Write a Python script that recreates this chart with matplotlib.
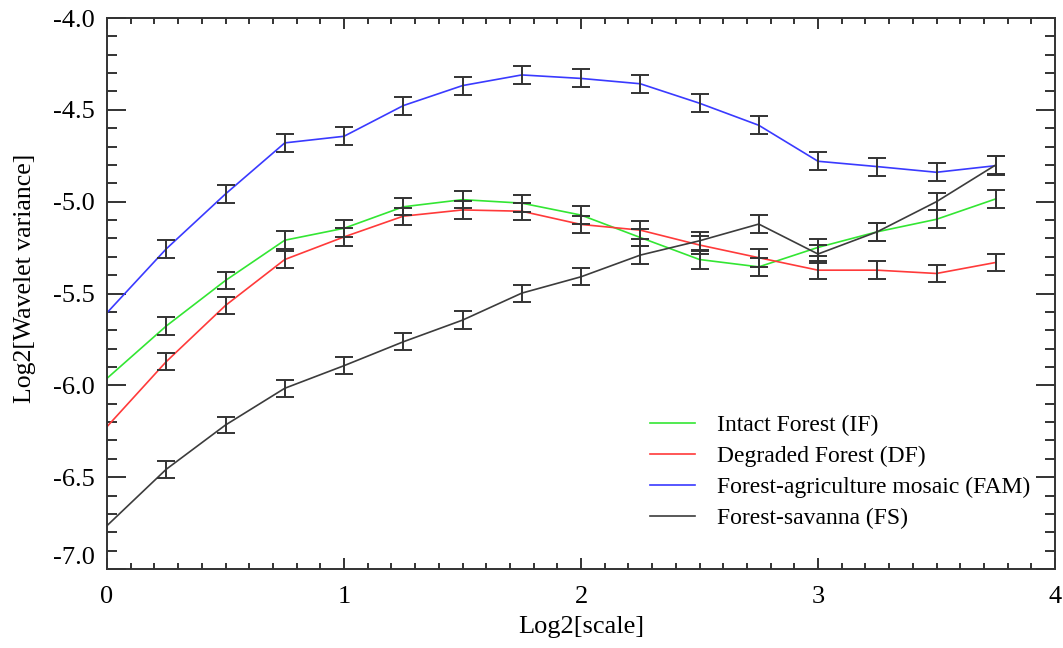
import matplotlib
matplotlib.use("Agg")
import matplotlib.pyplot as plt
from matplotlib.ticker import MultipleLocator, FixedLocator, FuncFormatter
from matplotlib.transforms import ScaledTranslation

plt.rcParams["font.family"] = ["Liberation Serif", "DejaVu Serif"]
plt.rcParams["axes.unicode_minus"] = False

# Log2 of the wavelet scale
log2_scale = [0.0, 0.25, 0.5, 0.75, 1.0, 1.25, 1.5, 1.75,
              2.0, 2.25, 2.5, 2.75, 3.0, 3.25, 3.5, 3.75]

# Log2 wavelet variance per landscape
intact_forest = [-5.962, -5.677, -5.429, -5.210, -5.145, -5.028, -4.989, -5.008,
                 -5.073, -5.195, -5.315, -5.355, -5.249, -5.164, -5.096, -4.985]
degraded_forest = [-6.225, -5.871, -5.565, -5.315, -5.192, -5.079, -5.045, -5.052,
                   -5.124, -5.155, -5.236, -5.305, -5.373, -5.373, -5.391, -5.331]
agri_mosaic = [-5.605, -5.257, -4.958, -4.680, -4.644, -4.477, -4.368, -4.310,
               -4.329, -4.358, -4.464, -4.584, -4.780, -4.809, -4.840, -4.804]
forest_savanna = [-6.764, -6.457, -6.216, -6.016, -5.893, -5.763, -5.645, -5.498,
                  -5.409, -5.291, -5.213, -5.122, -5.285, -5.164, -5.000, -4.800]

# Half-width of the confidence bars (no bar at the first scale)
err_if = [0.048, 0.048, 0.048, 0.047, 0.047, 0.048, 0.047, 0.047,
          0.048, 0.049, 0.048, 0.048, 0.048, 0.048, 0.048]
err_df = [0.048, 0.048, 0.048, 0.047, 0.047, 0.048, 0.047, 0.047,
          0.048, 0.048, 0.048, 0.048, 0.048, 0.048, 0.048]
err_fam = [0.050, 0.050, 0.049, 0.049, 0.049, 0.049, 0.049, 0.049,
           0.049, 0.049, 0.049, 0.049, 0.049, 0.049, 0.050]
err_fs = [0.045, 0.046, 0.046, 0.047, 0.047, 0.047, 0.047, 0.047,
          0.048, 0.048, 0.048, 0.048, 0.048, 0.048, 0.050]

labels = ["Intact Forest (IF)", "Degraded Forest (DF)",
          "Forest-agriculture mosaic (FAM)", "Forest-savanna (FS)"]
series = [intact_forest, degraded_forest, agri_mosaic, forest_savanna]
errors = [err_if, err_df, err_fam, err_fs]
colors = ["#33e633", "#ff3a3a", "#3a3aff", "#3c3c3c"]

fig = plt.figure(figsize=(10.63, 6.48), dpi=100)
ax = fig.add_axes([107 / 1063, 79 / 648, 948 / 1063, 551 / 648])

for y, c, lab in zip(series, colors, labels):
    ax.plot(log2_scale, y, color=c, lw=1.2, label=lab, zorder=2)

for y, e in zip(series, errors):
    ax.errorbar(log2_scale[1:], y[1:], yerr=e, fmt="none", ecolor="#333333",
                elinewidth=1.4, capsize=6.5, capthick=1.4, zorder=3)

ax.set_xlim(0, 4)
ax.set_ylim(-7.0, -4.0)

ax.xaxis.set_major_locator(MultipleLocator(1))
ax.xaxis.set_minor_locator(MultipleLocator(0.1))
ax.yaxis.set_major_locator(FixedLocator([-7.0, -6.5, -6.0, -5.5, -5.0, -4.5, -4.0]))
ax.yaxis.set_minor_locator(MultipleLocator(0.1))
ax.xaxis.set_major_formatter(FuncFormatter(lambda v, p: f"{v:.0f}"))
ax.yaxis.set_major_formatter(FuncFormatter(lambda v, p: f"{v:.1f}"))

ax.tick_params(axis="both", which="both", direction="in", top=True, right=True,
               color="#333333", width=1.4, labelsize=19, labelcolor="black")
ax.tick_params(axis="x", which="major", length=8, pad=12)
ax.tick_params(axis="x", which="minor", length=4.5)
ax.tick_params(axis="y", which="major", length=13.5, pad=9)
ax.tick_params(axis="y", which="minor", length=7)

for s in ax.spines.values():
    s.set_color("#333333")
    s.set_linewidth(1.4)

ax.set_xlabel("Log2[scale]", fontsize=19, labelpad=6)
ax.set_ylabel("Log2[Wavelet variance]", fontsize=18.5, labelpad=10)
ax.yaxis.set_label_coords(-0.075, 0.528)

# lift the bottom y label clear of the x axis labels
bottom_label = ax.yaxis.get_major_ticks()[0].label1
bottom_label.set_transform(bottom_label.get_transform()
                           + ScaledTranslation(0, 13 / 100, fig.dpi_scale_trans))

ax.legend(loc="upper left", bbox_to_anchor=(0.573, 0.280), frameon=False,
          fontsize=17, handlelength=1.9, handletextpad=0.95, labelspacing=0.4,
          borderpad=0, borderaxespad=0)

fig.savefig("out.png", dpi=100)
